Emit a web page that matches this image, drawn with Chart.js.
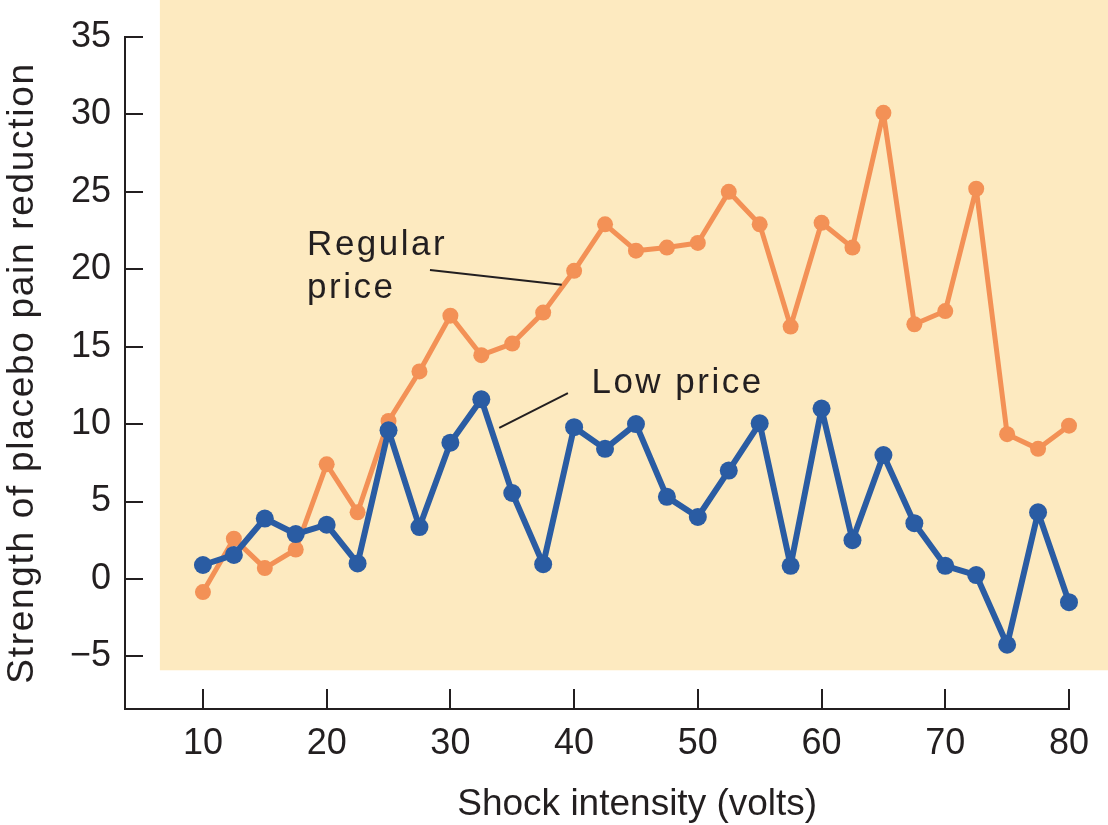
<!DOCTYPE html>
<html><head><meta charset="utf-8">
<script src="https://cdn.jsdelivr.net/npm/chart.js@4/dist/chart.umd.min.js"></script>
<style>html,body{margin:0;padding:0;background:#fff}canvas{display:block}</style>
</head><body>
<canvas id="c" width="1108" height="825"></canvas>
<script>
// ---- data ----
const voltage = [10, 12.5, 15, 17.5, 20, 22.5, 25, 27.5, 30, 32.5, 35, 37.5, 40, 42.5, 45, 47.5, 50, 52.5, 55, 57.5, 60, 62.5, 65, 67.5, 70, 72.5, 75, 77.5, 80];
const regularPrice = [-0.85, 2.6, 0.7, 1.9, 7.4, 4.3, 10.2, 13.4, 17.0, 14.45, 15.2, 17.2, 19.9, 22.9, 21.2, 21.4, 21.7, 25.0, 22.9, 16.3, 23.0, 21.4, 30.1, 16.45, 17.3, 25.2, 9.35, 8.4, 9.9];
const lowPrice = [0.9, 1.55, 3.9, 2.9, 3.5, 1.0, 9.6, 3.35, 8.8, 11.6, 5.55, 0.95, 9.8, 8.4, 10.0, 5.3, 4.0, 7.0, 10.05, 0.85, 11.0, 2.5, 8.0, 3.6, 0.85, 0.25, -4.25, 4.3, -1.5];
const xTickValues = [10, 20, 30, 40, 50, 60, 70, 80];
const yTickValues = [-5, 0, 5, 10, 15, 20, 25, 30, 35];
const xTitle = 'Shock intensity (volts)';
const yTitle = 'Strength of placebo pain reduction';
const seriesLabels = ['Low price', 'Regular price'];

const FONT = '"Liberation Sans", Arial, Helvetica, sans-serif';
const INK = '#231f20';
const BLUE = '#2a5ca3';
const ORANGE = '#f39156';
const PANEL = '#fdeac0';

const toPts = (xs, ys) => xs.map((x, i) => ({x, y: ys[i]}));

const decor = {
  id: 'decor',
  beforeDraw(chart) {
    const {ctx, scales: {x, y}, width} = chart;
    ctx.save();
    ctx.fillStyle = '#ffffff';
    ctx.fillRect(0, 0, width, chart.height);
    const left = x.getPixelForValue(6.52);
    const bottom = y.getPixelForValue(-5.9);
    ctx.fillStyle = PANEL;
    ctx.fillRect(left, 0, width - left, bottom);
    ctx.restore();
  },
  afterDatasetsDraw(chart) {
    const {ctx, scales: {x, y}, chartArea} = chart;
    ctx.save();
    ctx.strokeStyle = INK;
    ctx.lineWidth = 2;
    // inward tick marks
    ctx.beginPath();
    yTickValues.forEach(v => {
      const py = Math.round(y.getPixelForValue(v));
      ctx.moveTo(chartArea.left, py);
      ctx.lineTo(chartArea.left + 18, py);
    });
    xTickValues.forEach(v => {
      const px = Math.round(x.getPixelForValue(v));
      ctx.moveTo(px, chartArea.bottom);
      ctx.lineTo(px, chartArea.bottom - 20);
    });
    ctx.stroke();

    // leader lines
    ctx.beginPath();
    ctx.moveTo(x.getPixelForValue(28.35), y.getPixelForValue(19.95));
    ctx.lineTo(x.getPixelForValue(39.0), y.getPixelForValue(19.0));
    ctx.moveTo(x.getPixelForValue(39.5), y.getPixelForValue(12.0));
    ctx.lineTo(x.getPixelForValue(33.95), y.getPixelForValue(9.75));
    ctx.stroke();

    // series labels
    ctx.fillStyle = INK;
    ctx.font = '35px ' + FONT;
    ctx.textAlign = 'left';
    ctx.textBaseline = 'alphabetic';
    if ('letterSpacing' in ctx) ctx.letterSpacing = '2.5px';
    const words = seriesLabels[1].split(' ');
    ctx.fillText(words[0], x.getPixelForValue(18.42), y.getPixelForValue(20.9));
    ctx.fillText(words[1], x.getPixelForValue(18.42), y.getPixelForValue(18.15));
    ctx.fillText(seriesLabels[0], x.getPixelForValue(41.4), y.getPixelForValue(12.0));

    // axis titles
    ctx.font = '37px ' + FONT;
    if ('letterSpacing' in ctx) ctx.letterSpacing = '0px';
    ctx.textAlign = 'center';
    ctx.fillText(xTitle, x.getPixelForValue(45.1), 815);
    ctx.save();
    ctx.translate(33, y.getPixelForValue(13.3));
    ctx.rotate(-Math.PI / 2);
    if ('letterSpacing' in ctx) ctx.letterSpacing = '1.7px';
    ctx.fillText(yTitle, 0, 0);
    ctx.restore();
    ctx.restore();
  }
};

new Chart(document.getElementById('c'), {
  type: 'line',
  data: {
    datasets: [
      {
        label: seriesLabels[0],
        data: toPts(voltage, lowPrice),
        borderColor: BLUE,
        backgroundColor: BLUE,
        borderWidth: 6,
        borderJoinStyle: 'round',
        pointRadius: 9,
        pointBorderWidth: 0,
        pointHoverRadius: 9,
        tension: 0,
        clip: false
      },
      {
        label: seriesLabels[1],
        data: toPts(voltage, regularPrice),
        borderColor: ORANGE,
        backgroundColor: ORANGE,
        borderWidth: 5,
        borderJoinStyle: 'round',
        pointRadius: 8,
        pointBorderWidth: 0,
        pointHoverRadius: 8,
        tension: 0,
        clip: false
      }
    ]
  },
  options: {
    responsive: false,
    animation: false,
    events: [],
    layout: {padding: {top: 37, right: 39, left: 0, bottom: 0}},
    plugins: {legend: {display: false}, tooltip: {enabled: false}},
    scales: {
      x: {
        type: 'linear',
        min: 3.7,
        max: 80,
        afterFit(s) { s.height = 116; },
        afterBuildTicks(s) { s.ticks = xTickValues.map(v => ({value: v})); },
        grid: {display: false},
        border: {display: true, color: INK, width: 2},
        ticks: {color: INK, font: {family: FONT, size: 36}, padding: 5, maxRotation: 0, autoSkip: false}
      },
      y: {
        type: 'linear',
        min: -8.4,
        max: 35,
        afterFit(s) { s.width = 125; },
        afterBuildTicks(s) { s.ticks = yTickValues.map(v => ({value: v})); },
        grid: {display: false},
        border: {display: true, color: INK, width: 2},
        ticks: {color: INK, font: {family: FONT, size: 36}, padding: 6,
          callback: v => v < 0 ? '\u2212' + Math.abs(v) : String(v)}
      }
    }
  },
  plugins: [decor]
});
</script>
</body></html>
